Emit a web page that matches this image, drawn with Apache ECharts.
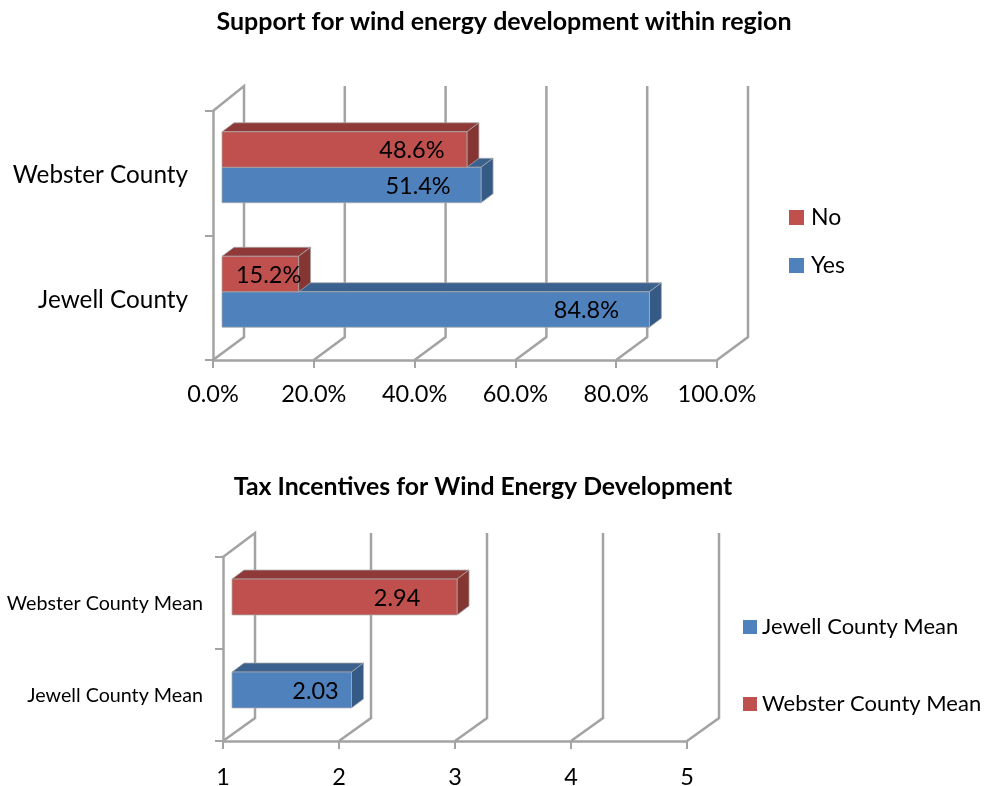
<!DOCTYPE html>
<html>
<head>
<meta charset="utf-8">
<title>Wind energy support</title>
<script src="https://cdn.jsdelivr.net/npm/echarts@6/dist/echarts.min.js"></script>
<style>
  html, body { margin: 0; padding: 0; background: #fff; }
  #chart { width: 984px; height: 786px; }
</style>
</head>
<body>
<div id="chart"></div>
<script>
// top chart
const supportCategories = ['Jewell County', 'Webster County']
const supportYes = [84.8, 51.4]
const supportNo = [15.2, 48.6]
const supportTicks = [0, 20, 40, 60, 80, 100]

// bottom chart
const taxCategories = ['Jewell County Mean', 'Webster County Mean']
const taxJewell = [2.03]
const taxWebster = [2.94]
const taxTicks = [1, 2, 3, 4, 5]

const FONT = 'Lato, "Noto Sans", sans-serif'
const GREY = '#a3a3a3'
const BLUE = { front: '#4f81bd', top: '#3b618f', side: '#355a86' }
const RED = { front: '#c0504d', top: '#8f3a38', side: '#853633' }

// walls: floor diagonal and back vertical for each tick
function wallSeries (grid, ticks, dx, dy, rise) {
  return {
    type: 'custom',
    xAxisIndex: grid,
    yAxisIndex: grid,
    silent: true,
    z: 1,
    data: ticks.map(t => [t, 0]),
    renderItem (params, api) {
      const x = api.coord([api.value(0), 0])[0]
      const box = params.coordSys
      const bottom = box.y + box.height
      const points = [[x, bottom], [x + dx, bottom - dy], [x + dx, box.y - rise]]
      if (params.dataIndex === 0) points.push([x, box.y])
      return {
        type: 'polyline',
        shape: { points },
        style: { fill: 'none', stroke: GREY, lineWidth: 2.5 }
      }
    }
  }
}

// one 3d bar: top face, side face, front face and its label
function barSeries (opt) {
  return {
    type: 'custom',
    name: opt.name,
    xAxisIndex: opt.grid,
    yAxisIndex: opt.grid,
    z: 2,
    itemStyle: { color: opt.colors.front },
    encode: { x: 0, y: 1 },
    data: opt.values.map((v, i) => [v, i + (opt.firstCat || 0)]),
    renderItem (params, api) {
      const value = api.value(0)
      const cat = api.value(1)
      const start = api.coord([opt.min, cat])
      const end = api.coord([value, cat])
      const band = api.size([0, 1])[1]
      const h = band * opt.barRatio
      const y = end[1] - 6 + (opt.shift || 0) + opt.slot * h
      const x0 = start[0] + 9
      const x1 = end[0] + 9
      const edge = { stroke: 'rgba(170,170,170,0.75)', lineWidth: 1 }
      const inset = opt.insets[params.dataIndex]
      return {
        type: 'group',
        children: [
          {
            type: 'polygon',
            shape: { points: [[x0, y], [x0 + 12, y - 9], [x1 + 12, y - 9], [x1, y]] },
            style: { fill: opt.colors.top, ...edge }
          },
          {
            type: 'polygon',
            shape: { points: [[x1, y], [x1 + 12, y - 9], [x1 + 12, y + h - 9], [x1, y + h]] },
            style: { fill: opt.colors.side, ...edge }
          },
          {
            type: 'rect',
            shape: { x: x0, y, width: x1 - x0, height: h },
            style: { fill: opt.colors.front, ...edge }
          },
          {
            type: 'text',
            style: {
              x: x1 - inset,
              y: y + h / 2 + 1,
              text: opt.format(value),
              fill: '#000',
              fontSize: 23.5,
              fontFamily: FONT,
              align: 'center',
              verticalAlign: 'middle'
            }
          }
        ]
      }
    }
  }
}

function valueAxis (grid, ticks, format, margin) {
  return {
    type: 'value',
    gridIndex: grid,
    min: ticks[0],
    max: ticks[ticks.length - 1],
    interval: ticks[1] - ticks[0],
    splitLine: { show: false },
    axisLine: { show: true, lineStyle: { color: GREY, width: 2.5 } },
    axisTick: { show: true, length: 8, lineStyle: { color: GREY, width: 2 } },
    axisLabel: { color: '#000', fontSize: 23.5, fontFamily: FONT, margin, formatter: format, hideOverlap: false, showMinLabel: true, showMaxLabel: true }
  }
}

// small lineHeight with top align drops the label by half of it
function catAxis (grid, categories, size, margin, drop) {
  return {
    type: 'category',
    gridIndex: grid,
    data: categories,
    axisLine: { show: true, onZero: false, lineStyle: { color: GREY, width: 2.5 } },
    axisTick: { show: true, length: 8, lineStyle: { color: GREY, width: 2 } },
    axisLabel: { color: '#000', fontSize: size, fontFamily: FONT, margin, verticalAlign: 'top', lineHeight: drop * 2 }
  }
}

const chart = echarts.init(document.getElementById('chart'))

chart.setOption({
  animation: false,
  backgroundColor: '#fff',
  title: [
    { text: 'Support for wind energy development within region', left: 499, top: 4, textAlign: 'center', textStyle: { fontSize: 25, fontWeight: 'bold', fontFamily: FONT, color: '#000' } },
    { text: 'Tax Incentives for Wind Energy Development', left: 478, top: 470, textAlign: 'center', textStyle: { fontSize: 24.8, fontWeight: 'bold', fontFamily: FONT, color: '#000' } }
  ],
  legend: [
    {
      data: ['No', 'Yes'],
      orient: 'vertical',
      left: 789,
      top: 206,
      icon: 'rect',
      itemWidth: 15,
      itemHeight: 15,
      itemGap: 25,
      padding: 0,
      selectedMode: false,
      textStyle: { fontSize: 23, fontFamily: FONT, color: '#000', padding: [0, 0, 0, 2] }
    },
    {
      data: ['Jewell County Mean', 'Webster County Mean'],
      orient: 'vertical',
      left: 743,
      top: 616,
      icon: 'rect',
      itemWidth: 14,
      itemHeight: 14,
      itemGap: 55,
      selectedMode: false,
      padding: 0,
      textStyle: { fontSize: 22, fontFamily: FONT, color: '#000' }
    }
  ],
  grid: [
    { left: 213, top: 111, width: 504, height: 249, outerBoundsMode: 'none' },
    { left: 223, top: 557, width: 464, height: 184, outerBoundsMode: 'none' }
  ],
  xAxis: [
    valueAxis(0, supportTicks, v => v.toFixed(1) + '%', 22),
    valueAxis(1, taxTicks, v => String(v), 24)
  ],
  yAxis: [
    catAxis(0, supportCategories, 24.3, 25, 2),
    catAxis(1, taxCategories, 19.7, 20, 1)
  ],
  series: [
    wallSeries(0, supportTicks, 31, 23, 25),
    wallSeries(1, taxTicks, 32, 23, 24),
    barSeries({ name: 'Yes', grid: 0, min: 0, values: supportYes, colors: BLUE, barRatio: 0.285, slot: 0, insets: [63, 63], format: v => v.toFixed(1) + '%' }),
    barSeries({ name: 'No', grid: 0, min: 0, values: supportNo, colors: RED, barRatio: 0.285, slot: -1, insets: [30, 55], format: v => v.toFixed(1) + '%' }),
    barSeries({ name: 'Jewell County Mean', grid: 1, min: 1, shift: 1, values: taxJewell, colors: BLUE, barRatio: 0.39, slot: -0.5, insets: [36], format: v => v.toFixed(2) }),
    barSeries({ name: 'Webster County Mean', grid: 1, min: 1, firstCat: 1, values: taxWebster, colors: RED, barRatio: 0.39, slot: -0.5, insets: [60], format: v => v.toFixed(2) })
  ]
})
</script>
</body>
</html>
